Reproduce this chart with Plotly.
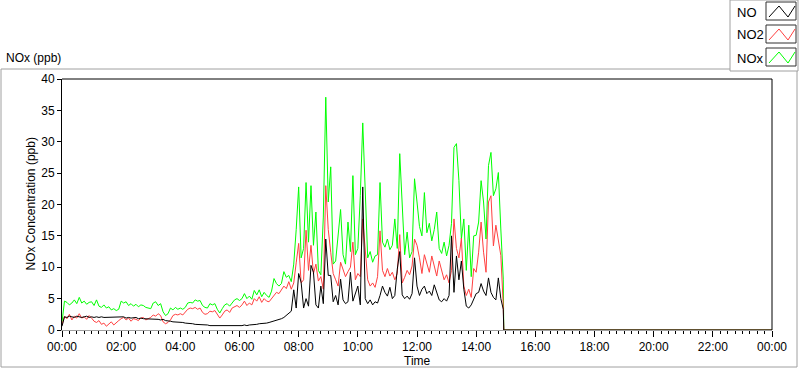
import pandas as pd
import plotly.graph_objects as go

# ---- data (5-minute samples from 00:00 to 14:55, ppb) ----
START = "2024-01-01 00:00"
N_SAMPLES = 180
STEP = "5min"

NO = [
    0.6, 2.1, 2.0, 2.2, 2.1, 2.0, 2.2, 2.1, 2.0, 2.1, 2.2, 2.0,
    2.1, 2.0, 2.1, 2.0, 2.1, 2.0, 2.0, 2.1, 2.0, 2.0, 2.1, 2.0,
    2.0, 2.1, 1.9, 2.0, 1.9, 1.9, 2.0, 1.8, 1.9, 1.8, 1.8, 1.8,
    1.7, 1.8, 1.7, 1.7, 1.6, 1.7, 1.5, 1.5, 1.4, 1.3, 1.3, 1.2,
    1.3, 1.2, 1.1, 1.1, 1.0, 1.0, 0.9, 0.9, 0.9, 0.8, 0.8, 0.8,
    0.7, 0.7, 0.7, 0.6, 0.6, 0.7, 0.6, 0.6, 0.7, 0.6, 0.6, 0.7,
    0.7, 0.7, 0.8, 0.7, 0.8, 0.8, 0.9, 0.9, 1.0, 1.0, 1.1, 1.1,
    1.2, 1.3, 1.4, 1.5, 1.6, 1.8, 2.0, 2.3, 2.7, 3.0, 6.4, 3.5,
    9.0, 7.6, 3.5, 5.0, 3.8, 10.3, 9.2, 4.0, 3.5, 7.0, 4.2, 14.5,
    8.7, 8.7, 4.5, 5.5, 4.0, 8.1, 4.8, 4.2, 4.5, 9.2, 4.6, 5.8,
    7.0, 4.0, 22.8, 5.0, 4.2, 4.8, 4.0, 4.5, 4.3, 5.5, 7.0, 6.0,
    5.4, 6.8, 5.0, 5.5, 9.7, 12.5, 5.6, 5.0, 5.4, 4.9, 5.8, 11.5,
    7.0, 5.5, 6.5, 7.0, 5.8, 6.2, 5.5, 7.2, 6.0, 4.8, 4.5, 5.0,
    4.6, 5.5, 15.0, 6.0, 11.8, 8.0, 11.0, 6.5, 3.8, 3.5, 4.0, 4.8,
    5.8, 6.0, 7.4, 6.2, 5.5, 8.3, 6.0, 5.2, 4.8, 8.3, 5.0, 3.3,
]

NO2 = [
    0.8, 2.2, 1.8, 2.5, 1.6, 2.2, 1.9, 2.6, 1.9, 2.1, 1.7, 2.3,
    1.9, 1.4, 1.2, 1.5, 0.9, 1.1, 0.6, 1.0, 1.3, 0.8, 1.2, 1.5,
    1.8, 2.0, 1.6, 1.9, 1.4, 1.8, 1.7, 1.5, 1.9, 2.0, 1.6, 1.8,
    2.0, 2.4, 2.2, 2.6, 2.3, 1.3, 1.0, 1.2, 1.6, 2.3, 2.5, 2.4,
    2.6, 2.4, 2.8, 3.3, 3.5, 3.4, 3.6, 3.3, 3.5, 2.8, 2.5, 2.6,
    3.0, 2.9, 3.1, 2.4, 1.9, 2.4, 3.0, 3.2, 2.8, 3.5, 3.7, 3.9,
    3.6, 4.0, 4.6, 3.9, 4.3, 4.0, 5.0, 4.6, 5.3, 4.4, 5.0, 4.6,
    4.5, 5.0, 5.6, 6.0, 5.8, 6.4, 7.0, 6.6, 7.7, 6.5, 7.5, 10.7,
    13.8, 7.5, 8.0, 15.9, 9.5, 13.5, 9.0, 10.5, 7.8, 8.5, 6.5, 23.0,
    16.0, 12.4, 9.0, 8.0, 7.0, 10.8, 9.5, 8.5, 9.3, 10.0, 14.0, 8.0,
    9.0, 8.5, 17.7, 12.4, 8.0, 7.0, 7.5, 6.8, 8.5, 15.8, 9.5, 8.5,
    9.8, 8.6, 9.2, 8.0, 9.0, 15.2, 7.5, 8.4, 9.5, 8.8, 10.2, 14.5,
    13.5, 11.5, 9.0, 12.0, 10.5, 9.2, 11.8, 10.0, 8.6, 11.0, 9.5, 8.0,
    8.8, 7.5, 9.5, 17.7, 13.0, 11.5, 14.6, 7.0, 5.5, 6.5, 5.2, 9.8,
    9.2, 12.4, 17.2, 12.4, 9.2, 20.4, 21.4, 13.4, 16.7, 14.5, 11.9, 3.9,
]

NOX = [
    1.2, 4.6, 4.4, 4.0, 4.3, 4.8, 4.2, 5.2, 4.3, 4.6, 4.1, 4.4,
    4.5, 3.9, 4.8, 3.8, 3.6, 4.0, 3.5, 3.7, 3.2, 3.4, 3.1, 3.3,
    4.6, 4.3, 4.5, 3.9, 4.2, 3.8, 4.1, 3.7, 4.0, 3.9, 3.6, 3.5,
    3.4, 4.3, 4.5, 3.9, 4.2, 2.9, 2.3, 2.6, 3.5, 3.2, 3.6, 3.3,
    3.5, 3.3, 3.6, 4.3, 4.4, 4.3, 4.8, 4.6, 4.7, 3.9, 3.6, 3.5,
    4.2, 4.0, 4.2, 3.3, 2.7, 3.4, 4.0, 4.2, 3.8, 4.3, 4.8, 5.0,
    4.7, 5.0, 5.8, 5.0, 5.4, 4.9, 6.3, 5.6, 6.4, 5.3, 6.0, 5.5,
    5.2, 6.2, 8.2, 7.4, 7.0, 7.4, 9.3, 8.4, 8.7, 7.7, 10.5, 16.0,
    22.8, 11.5, 13.0, 23.5, 14.0, 23.0, 13.5, 18.8, 9.5, 8.8, 18.0, 37.1,
    20.4, 26.0, 10.5, 11.0, 15.5, 19.2, 12.0, 10.5, 17.2, 12.5, 24.6, 12.0,
    13.0, 21.4, 33.0, 20.9, 11.5, 12.5, 10.8, 11.8, 12.0, 23.5, 14.0, 13.2,
    14.5, 12.8, 13.5, 17.7, 13.0, 28.1, 19.3, 12.0, 15.6, 11.5, 12.5, 24.1,
    20.4, 16.5, 15.0, 21.9, 15.5, 17.0, 14.2, 16.0, 18.8, 13.0, 12.2, 14.0,
    11.8, 13.5, 17.0, 29.1, 29.7, 23.8, 14.5, 17.7, 9.5, 16.7, 8.5, 15.0,
    15.1, 17.2, 23.8, 20.4, 14.5, 26.2, 28.3, 21.4, 22.5, 25.1, 16.1, 8.1,
]

# instrument stops just before 15:00; readings are zero afterwards
END_TIMES = ["2024-01-01 14:56", "2024-01-02 00:00"]
END_VALUES = [0.0, 0.0]

X_RANGE = ["2024-01-01 00:00", "2024-01-02 00:00"]
Y_RANGE = [0, 40]

times = list(pd.date_range(START, periods=N_SAMPLES, freq=STEP)) + list(pd.to_datetime(END_TIMES))

FONT = "Liberation Sans, Arial, sans-serif"
GREEN = "#00ff00"
RED = "#ff4040"
BLACK = "#000000"
GREY = "#a0a0a0"

fig = go.Figure()
for name, vals, col in [("NOx", NOX, GREEN), ("NO2", NO2, RED), ("NO", NO, BLACK)]:
    fig.add_trace(go.Scatter(x=times, y=vals + END_VALUES, mode="lines", name=name,
                             line=dict(color=col, width=1), showlegend=False))

L, T, R, B = 62, 79, 772, 330
W, H = 800, 369


def px(xpix):
    return (xpix - L) / (R - L)


def py(ypix):
    return (B - ypix) / (B - T)


shapes = []
# outer frame
shapes.append(dict(type="rect", xref="paper", yref="paper", x0=px(1), x1=px(797), y0=py(367), y1=py(69),
                   line=dict(color=GREY, width=1), layer="below"))
# plot border top & right
shapes.append(dict(type="line", xref="paper", yref="paper", x0=0, x1=1, y0=1, y1=1, line=dict(color=BLACK, width=1)))
shapes.append(dict(type="line", xref="paper", yref="paper", x0=1, x1=1, y0=0, y1=1, line=dict(color=BLACK, width=1)))
# legend box
shapes.append(dict(type="rect", xref="paper", yref="paper", x0=px(730), x1=px(798), y0=py(71), y1=py(0),
                   line=dict(color=GREY, width=1), fillcolor="white", layer="above"))

annotations = []
legend_items = [("NO", BLACK, 2), ("NO2", RED, 25), ("NOx", GREEN, 48)]
for label, col, ytop in legend_items:
    shapes.append(dict(type="rect", xref="paper", yref="paper", x0=px(766), x1=px(796), y0=py(ytop + 18), y1=py(ytop),
                       line=dict(color="#303030", width=1), fillcolor="white", layer="above"))
    pts = [(769, ytop + 15), (779, ytop + 4), (788, ytop + 15), (795, ytop + 4)]
    path = "M " + " L ".join(f"{px(a)},{py(b)}" for a, b in pts)
    shapes.append(dict(type="path", xref="paper", yref="paper", path=path, line=dict(color=col, width=1), layer="above"))
    annotations.append(dict(text=label, xref="paper", yref="paper", x=px(735), y=py(ytop + 10), xanchor="left",
                            yanchor="middle", showarrow=False, font=dict(family=FONT, size=13, color=BLACK)))

annotations.append(dict(text="NOx (ppb)", xref="paper", yref="paper", x=px(4), y=py(58), xanchor="left",
                        yanchor="middle", showarrow=False, font=dict(family=FONT, size=12, color=BLACK)))
annotations.append(dict(text="NOx Concentration (ppb)", xref="paper", yref="paper", x=px(30), y=0.5,
                        xanchor="center", yanchor="middle", textangle=-90, showarrow=False,
                        font=dict(family=FONT, size=12, color=BLACK)))
annotations.append(dict(text="Time", xref="paper", yref="paper", x=0.5, y=py(361), xanchor="center",
                        yanchor="middle", showarrow=False, font=dict(family=FONT, size=12, color=BLACK)))

fig.update_layout(
    width=W, height=H,
    margin=dict(l=L, r=W - R, t=T, b=H - B, pad=0),
    paper_bgcolor="white", plot_bgcolor="white",
    font=dict(family=FONT, size=12, color=BLACK),
    shapes=shapes, annotations=annotations,
    xaxis=dict(type="date", range=X_RANGE, dtick=2 * 3600 * 1000, tick0=X_RANGE[0], tickformat="%H:%M",
               ticks="outside", ticklen=6, tickcolor=BLACK, showgrid=False, zeroline=False,
               showline=True, linecolor=GREY, linewidth=1,
               minor=dict(dtick=15 * 60 * 1000, ticks="outside", ticklen=3, tickcolor=BLACK, showgrid=False),
               tickfont=dict(family=FONT, size=12, color=BLACK), fixedrange=True),
    yaxis=dict(range=Y_RANGE, dtick=5, ticks="outside", ticklen=4, tickcolor=BLACK, showgrid=False,
               zeroline=False, showline=True, linecolor=BLACK, linewidth=1,
               tickfont=dict(family=FONT, size=12, color=BLACK), fixedrange=True),
)

fig.write_html("out.html", config={"displayModeBar": False},
               post_script="document.body.style.margin='0';document.body.style.padding='0';")
